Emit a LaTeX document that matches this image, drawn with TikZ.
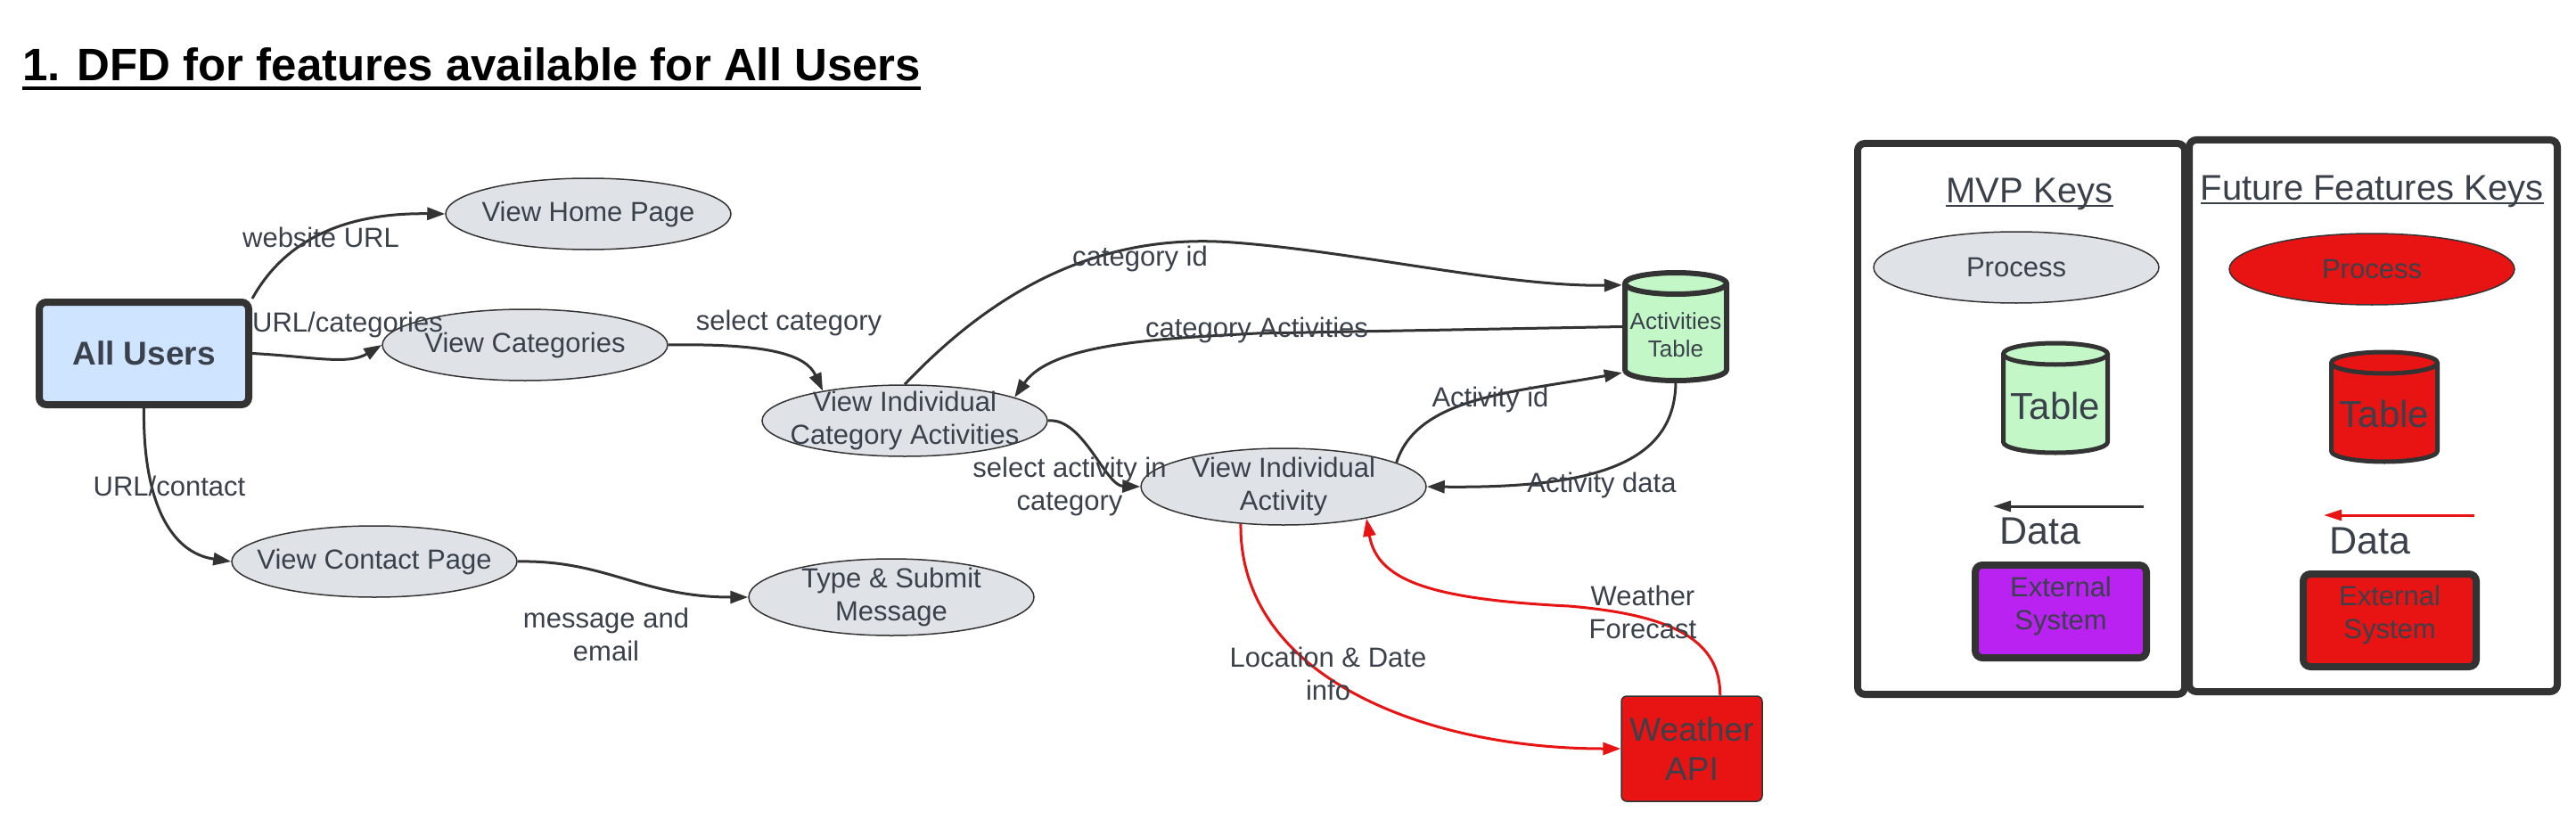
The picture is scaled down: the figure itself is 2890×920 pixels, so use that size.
\documentclass[tikz,border=0pt]{standalone}
\usepackage{fontspec}
\setmainfont{Liberation Sans}
\usetikzlibrary{arrows.meta,calc,shapes.geometric}

\definecolor{ink}{HTML}{3A414A}
\definecolor{edge}{HTML}{333333}
\definecolor{procgray}{HTML}{DFE3E8}
\definecolor{userblue}{HTML}{CFE4FF}
\definecolor{tblgreen}{HTML}{C3F7C8}
\definecolor{apired}{HTML}{E81313}
\definecolor{extpurple}{HTML}{BA22F2}

\newcommand\cylshape[7]{%
  \filldraw[fill=#6, draw=edge, line width=#7pt, line join=round]
    ({#1-#4},{#2+#5}) -- ({#1-#4},{#3-#5})
    arc[start angle=180, end angle=360, x radius=#4pt, y radius=#5pt]
    -- ({#1+#4},{#2+#5})
    arc[start angle=0, end angle=180, x radius=#4pt, y radius=#5pt]
    -- cycle;
  \draw[draw=edge, line width=#7pt]
    ({#1-#4},{#2+#5}) arc[start angle=180, end angle=360, x radius=#4pt, y radius=#5pt];
}

\begin{document}
\begin{tikzpicture}[x=1pt,y=-1pt,
  every node/.style={inner sep=0pt, text=ink},
  proc/.style={ellipse, draw=edge, line width=1.5pt, fill=procgray, minimum width=320pt, minimum height=80pt},
  ptext/.style={font=\fontsize{31}{37}\selectfont, align=center, text=ink},
  lbl/.style={font=\fontsize{31}{37}\selectfont, align=center, text=ink},
  flow/.style={draw=edge, line width=3pt, -{Triangle[length=20pt,width=14pt]}},
  rflow/.style={draw=apired, line width=3pt, -{Triangle[length=20pt,width=14pt]}},
  ext/.style={draw=edge, line width=8pt, rounded corners=8pt, minimum height=104pt},
  keybox/.style={draw=edge, line width=8pt, rounded corners=8pt},
]
\fill[white] (0,0) rectangle (2890,920);
\useasboundingbox (0,0) rectangle (2890,920);

% title
\node[font=\bfseries\fontsize{51}{60}\selectfont, text=black, anchor=base west] (title) at (25,91) {1. DFD for features available for All Users};
\draw[black, line width=4pt] ($(title.base west)+(0,8)$) -- ($(title.base east)+(0,8)$);

% nodes
\node[draw=edge, line width=8pt, fill=userblue, rounded corners=8pt, minimum width=235pt, minimum height=115pt, font=\bfseries\fontsize{37}{44}\selectfont] (users) at (161.5,396.5) {All Users};
\node[proc, label={[ptext]center:View Home Page}] (home) at (660,240) {};
\node[proc, label={[ptext]center:View Categories}] (cat) at (589,387) {};
\node[proc, label={[ptext]center:View Individual\\Category Activities}] (vica) at (1015,472) {};
\node[proc, minimum height=86pt, label={[ptext]center:View Individual\\Activity}] (via) at (1440,546) {};
\node[proc, label={[ptext]center:View Contact Page}] (contact) at (420,630) {};
\node[proc, minimum height=86pt, label={[ptext]center:Type \& Submit\\Message}] (submit) at (1000,670) {};

\cylshape{1880}{306}{427}{57}{12}{tblgreen}{6}
\node[minimum width=120pt, minimum height=121pt] (tbl) at (1880,366.5) {};
\node[font=\fontsize{26}{31}\selectfont, align=center] (tbltext) at (1880,376) {Activities\\Table};

\node[draw=edge, line width=1.5pt, fill=apired, rounded corners=6pt, minimum width=158pt, minimum height=118pt, align=center, font=\fontsize{37}{44}\selectfont] (api) at (1898,840) {Weather\\API};

% connectors
\draw[flow] (users.north east) .. controls (330,250) and (420,239) .. (home.west);
\draw[flow] (users.east) .. controls (350,400) and (390,410) .. (cat.west);
\draw[flow] (cat.east) .. controls (870,385) and (905,400) .. (vica.160);
\draw[flow] (vica.north) .. controls (1130,310) and (1250,262) .. (1383,272) .. controls (1520,282) and (1690,322) .. ($(tbl.north west)+(0,14)$);
\draw[flow] (tbl.west) -- (1410,374) .. controls (1300,380) and (1180,385) .. (vica.12);
\draw[flow] (vica.east) .. controls (1215,468) and (1240,545) .. (via.west);
\draw[flow] (via.12) .. controls (1590,445) and (1700,440) .. ($(tbl.south west)+(0,-9)$);
\draw[flow] (tbl.south) .. controls (1880,520) and (1790,548) .. (via.east);
\draw[flow] (users.south) .. controls (160,560) and (190,620) .. (contact.west);
\draw[flow] (contact.east) .. controls (680,628) and (720,670) .. (submit.west);
\draw[rflow] (via.221) .. controls (1390,760) and (1600,840) .. (api.west);
\draw[rflow] (api.62) .. controls (1930,720) and (1880,690) .. (1760,680) .. controls (1600,672) and (1545,650) .. (via.339);

% labels
\node[lbl] (l1) at (360,266) {website URL};
\node[lbl] (l2) at (390,364) {URL/categories};
\node[lbl] (l3) at (885,362) {select category};
\node[lbl] (l4) at (190,545) {URL/contact};
\node[lbl] (l5) at (680,712) {message and\\email};
\node[lbl] (l6) at (1279,290) {category id};
\node[lbl] (l7) at (1410,370) {category Activities};
\node[lbl] (l8) at (1200,546) {select activity in\\category};
\node[lbl] (l9) at (1672,448) {Activity id};
\node[lbl] (l10) at (1797,544) {Activity data};
\node[lbl] (l11) at (1490,756) {Location \& Date\\info};
\node[lbl] (l12) at (1843,687) {Weather\\Forecast};

% keys
\node[keybox, minimum width=367pt, minimum height=618pt] (mvpbox) at (2267.5,470) {};
\node[keybox, minimum width=413pt, minimum height=619pt] (futbox) at (2662.5,466.5) {};

\node[font=\fontsize{40}{48}\selectfont, anchor=base] (mvptitle) at (2277,227) {MVP Keys};
\draw[ink, line width=2.5pt] ($(mvptitle.base west)+(0,4)$) -- ($(mvptitle.base east)+(0,4)$);
\node[font=\fontsize{40}{48}\selectfont, anchor=base] (futtitle) at (2661,224) {Future Features Keys};
\draw[ink, line width=2.5pt] ($(futtitle.base west)+(0,4)$) -- ($(futtitle.base east)+(0,4)$);

\node[proc, label={[ptext]center:Process}] (kproc) at (2262,300) {};
\node[proc, fill=apired, label={[ptext]center:Process}] (kfproc) at (2661,302) {};

\cylshape{2306}{385}{508}{58.5}{12}{tblgreen}{5}
\node[minimum width=122pt, minimum height=123pt] (ktbl) at (2306,446.5) {};
\node[font=\fontsize{42}{50}\selectfont] (ktbltext) at (2306,455) {Table};
\cylshape{2675}{395}{518}{59.5}{12}{apired}{5}
\node[minimum width=124pt, minimum height=123pt] (kftbl) at (2675,456.5) {};
\node[font=\fontsize{42}{50}\selectfont] (kftbltext) at (2675,464) {Table};

\coordinate (kd1s) at (2405,568);
\coordinate (kd1e) at (2236,568);
\draw[draw=edge, line width=3pt, -{Triangle[length=20pt,width=12pt]}] (kd1s) -- (kd1e);
\node[font=\fontsize{43}{50}\selectfont, anchor=base west] (kdata1) at (2243,610) {Data};
\coordinate (kd2s) at (2776,578);
\coordinate (kd2e) at (2607,578);
\draw[draw=apired, line width=3pt, -{Triangle[length=20pt,width=12pt]}] (kd2s) -- (kd2e);
\node[font=\fontsize{43}{50}\selectfont, anchor=base west] (kdata2) at (2613,621) {Data};

\node[ext, fill=extpurple, minimum width=192pt, label={[ptext, yshift=6pt]center:External\\System}] (kext) at (2312,686) {};
\node[ext, fill=apired, minimum width=194pt, label={[ptext, yshift=6pt]center:External\\System}] (kfext) at (2681,696) {};
\end{tikzpicture}
\end{document}
